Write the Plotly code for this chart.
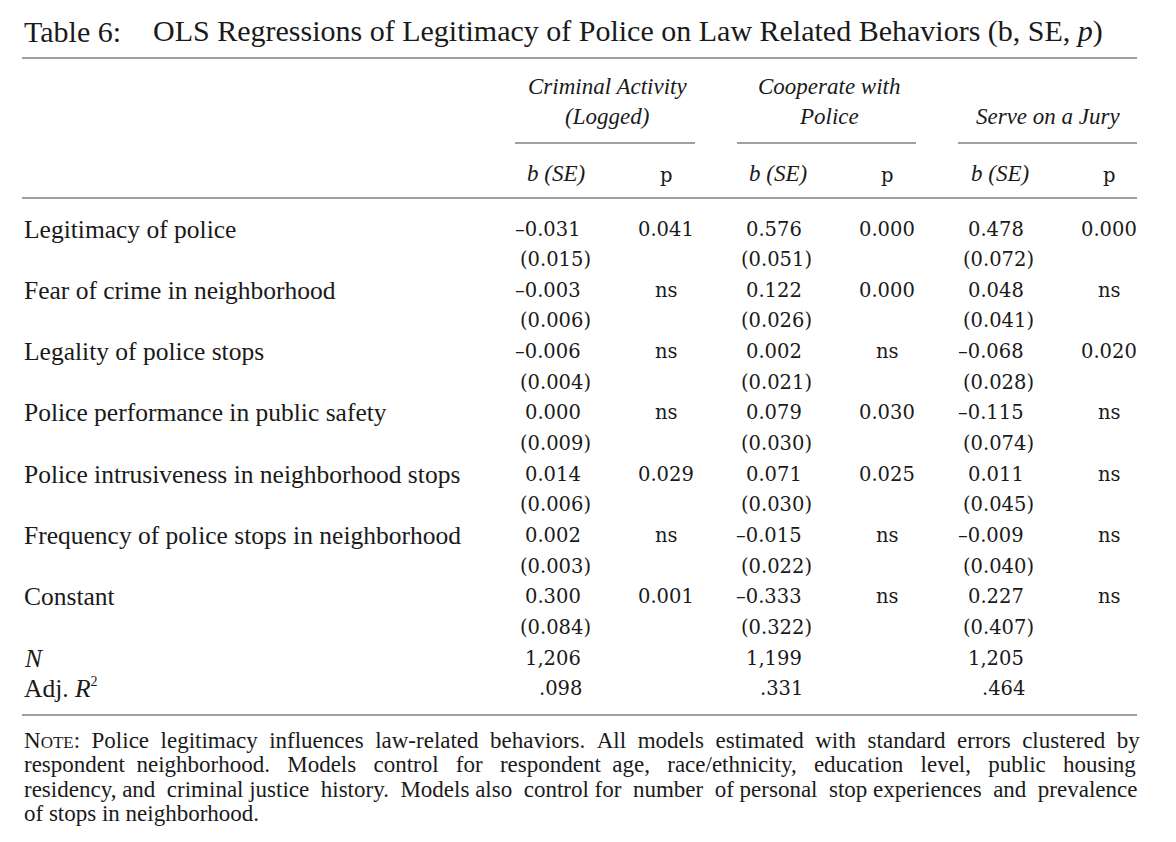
import plotly.graph_objects as go

# ---- table content ----
title_label = "Table 6:"
title_text = "OLS Regressions of Legitimacy of Police on Law Related Behaviors (b, SE, <i>p</i>)"

outcomes = [["Criminal Activity", "(Logged)"], ["Cooperate with", "Police"], ["", "Serve on a Jury"]]

variables = [
    "Legitimacy of police",
    "Fear of crime in neighborhood",
    "Legality of police stops",
    "Police performance in public safety",
    "Police intrusiveness in neighborhood stops",
    "Frequency of police stops in neighborhood",
    "Constant",
]

crim_b = [-0.031, -0.003, -0.006, 0.000, 0.014, 0.002, 0.300]
crim_se = [0.015, 0.006, 0.004, 0.009, 0.006, 0.003, 0.084]
crim_p = [0.041, None, None, None, 0.029, None, 0.001]

coop_b = [0.576, 0.122, 0.002, 0.079, 0.071, -0.015, -0.333]
coop_se = [0.051, 0.026, 0.021, 0.030, 0.030, 0.022, 0.322]
coop_p = [0.000, 0.000, None, 0.030, 0.025, None, None]

jury_b = [0.478, 0.048, -0.068, -0.115, 0.011, -0.009, 0.227]
jury_se = [0.072, 0.041, 0.028, 0.074, 0.045, 0.040, 0.407]
jury_p = [0.000, None, 0.020, None, None, None, None]

n_obs = ["1,206", "1,199", "1,205"]
adj_r2 = [".098", ".331", ".464"]

note_lines = [
    "N<span style='font-size:17px'>OTE</span>: Police legitimacy influences law-related behaviors. All models estimated with standard errors clustered by",
    "respondent neighborhood. Models control for respondent age, race/ethnicity, education level, public housing",
    "residency, and criminal justice history. Models also control for number of personal stop experiences and prevalence",
    "of stops in neighborhood.",
]
note_pad = [13, 20, 9, 0]   # extra non-breaking spaces to justify each line

# ---- layout constants (pixels) ----
W, H = 1176, 842
LEFT, RIGHT = 22, 1137
SERIF = "Liberation Serif, Times New Roman, serif"
NUMS = "DejaVu Serif, serif"
INK = "#1a1a1a"
RULE = "#808080"
FS = 25.5
NS = 19.5

b_right = [583, 804, 1026]      # right edge of coefficient columns
se_right = [593, 814, 1036]     # right edge of SE column (hanging paren)
p_center = [666, 887, 1109]
bse_center = [556, 778, 1000]
grp_center = [607, 829, 1048]
span_rules = [(515, 695), (737, 916), (958, RIGHT)]

row_y0, row_step = 229, 61.3


def fmt(v):
    return f"{v:.3f}".replace("-", "\u2013")


def justify(line, pad):
    parts = line.split(" ")
    gaps = len(parts) - 1
    if pad == 0 or gaps == 0:
        return line
    out = parts[0]
    for g, w in enumerate(parts[1:]):
        n = (pad * (g + 1)) // gaps - (pad * g) // gaps
        out += " " + "&nbsp;" * n + w
    return out


annotations = []


def text(x, y, s, anchor="left", size=FS, italic=False, font=SERIF):
    if italic:
        s = f"<i>{s}</i>"
    annotations.append(dict(
        x=x, y=y, xref="x", yref="y", text=s, showarrow=False,
        xanchor=anchor, yanchor="middle",
        font=dict(family=font, size=size, color=INK),
    ))


text(LEFT, 31, title_label, size=30)
text(151, 31, title_text, size=30)

for k, (l1, l2) in enumerate(outcomes):
    if l1:
        text(grp_center[k], 86, l1, "center", size=23, italic=True)
    text(grp_center[k], 116, l2, "center", size=23, italic=True)
    text(bse_center[k], 173, "b (SE)", "center", size=23, italic=True)
    text(p_center[k], 175, "p", "center", size=NS, font=NUMS)

models = [(crim_b, crim_se, crim_p), (coop_b, coop_se, coop_p), (jury_b, jury_se, jury_p)]
for i, var in enumerate(variables):
    y = row_y0 + i * row_step
    text(LEFT, y, var)
    for k, (b, se, p) in enumerate(models):
        text(b_right[k], y, fmt(b[i]), "right", size=NS, font=NUMS)
        text(se_right[k], y + row_step / 2, f"({fmt(se[i])})", "right", size=NS, font=NUMS)
        text(p_center[k], y, "ns" if p[i] is None else fmt(p[i]), "center", size=NS, font=NUMS)

y_n = row_y0 + len(variables) * row_step
text(LEFT, y_n, "N", italic=True)
text(LEFT, y_n + row_step / 2, "Adj. <i>R</i><sup><span style='font-size:14px'>2</span></sup>")
for k in range(3):
    text(b_right[k], y_n, n_obs[k], "right", size=NS, font=NUMS)
    text(b_right[k] + 1, y_n + row_step / 2, adj_r2[k], "right", size=NS, font=NUMS)

for j, line in enumerate(note_lines):
    text(LEFT, 740 + j * 24.5, justify(line, note_pad[j]), size=23)

shapes = []


def hline(x0, x1, y, w=1.6):
    shapes.append(dict(type="line", xref="x", yref="y", x0=x0, x1=x1, y0=y, y1=y,
                       line=dict(color=RULE, width=w)))


hline(LEFT, RIGHT, 58)
for x0, x1 in span_rules:
    hline(x0, x1, 143, 1.3)
hline(LEFT, RIGHT, 198)
hline(LEFT, RIGHT, 715)

# the page body has an 8px margin, so shift the pixel frame to keep page coords
fig = go.Figure()
fig.update_layout(
    width=W - 20, height=H - 20,
    margin=dict(l=0, r=0, t=0, b=0),
    paper_bgcolor="white", plot_bgcolor="white",
    xaxis=dict(range=[8, W - 12], visible=False, fixedrange=True),
    yaxis=dict(range=[H - 12, 8], visible=False, fixedrange=True),
    annotations=annotations, shapes=shapes,
    showlegend=False,
)
fig.write_html("out.html")
